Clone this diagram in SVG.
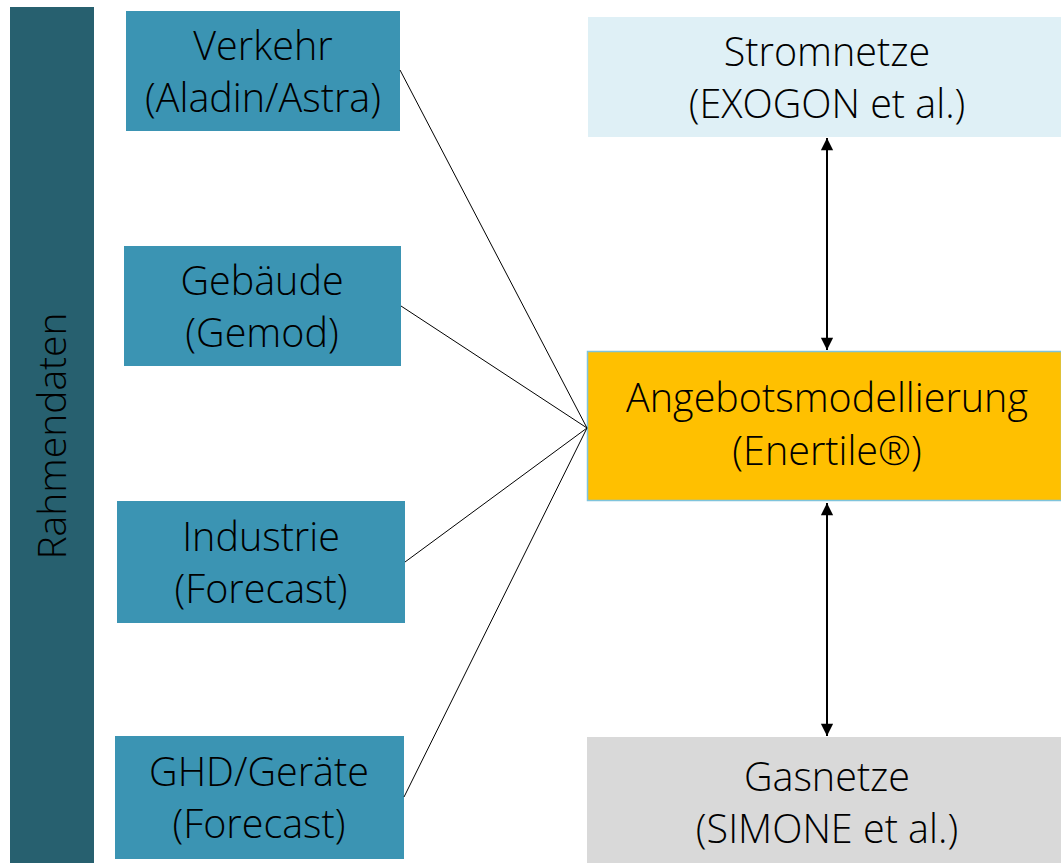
<svg xmlns="http://www.w3.org/2000/svg" width="1061" height="863" viewBox="0 0 1061 863">
<style>
text{font-family:"Open Sans","Noto Sans","DejaVu Sans",sans-serif;font-size:39.5px;font-weight:300;fill:#000;text-anchor:middle}
.blue{fill:#3b94b3}
.line{stroke:#000;stroke-width:1;fill:none}
.arr{stroke:#000;stroke-width:2;fill:none;marker-start:url(#ah);marker-end:url(#ah)}
</style>
<defs>
<marker id="ah" viewBox="0 0 14 16" refX="14" refY="7" markerWidth="14" markerHeight="14" markerUnits="userSpaceOnUse" orient="auto-start-reverse">
<path d="M0,0 L14,7 L0,14 Z" fill="#000"/>
</marker>
</defs>
<rect width="1061" height="863" fill="#fff"/>
<g id="rahmendaten">
<rect x="10" y="7" width="84" height="856" fill="#27606f"/>
<text transform="translate(66,436) rotate(-90)" style="font-size:39px">Rahmendaten</text>
</g>
<g id="verkehr">
<rect class="blue" x="126" y="11" width="274" height="120"/>
<text x="263" y="60">Verkehr</text>
<text x="263" y="112">(Aladin/Astra)</text>
</g>
<g id="gebaeude">
<rect class="blue" x="124" y="246" width="277" height="120"/>
<text x="262" y="295">Gebäude</text>
<text x="262" y="347">(Gemod)</text>
</g>
<g id="industrie">
<rect class="blue" x="117" y="501" width="288" height="122"/>
<text x="261" y="551">Industrie</text>
<text x="261" y="603">(Forecast)</text>
</g>
<g id="ghd">
<rect class="blue" x="115" y="736" width="289" height="123"/>
<text x="259" y="786">GHD/Geräte</text>
<text x="259" y="838">(Forecast)</text>
</g>
<g id="stromnetze">
<rect x="588" y="17" width="473" height="120" fill="#dff0f6"/>
<text x="827" y="66">Stromnetze</text>
<text x="827" y="118">(EXOGON et al.)</text>
</g>
<g id="angebot">
<rect x="587.5" y="351.5" width="474" height="149" fill="#ffc000" stroke="#7fc4dc" stroke-width="1.5"/>
<text x="827" y="412">Angebotsmodellierung</text>
<text x="827" y="465">(Enertile®)</text>
</g>
<g id="gasnetze">
<rect x="587" y="737" width="474" height="126" fill="#d9d9d9"/>
<text x="827" y="791">Gasnetze</text>
<text x="827" y="843">(SIMONE et al.)</text>
</g>
<g id="connectors">
<line class="line" x1="400" y1="70" x2="587" y2="428"/>
<line class="line" x1="401" y1="306" x2="587" y2="428"/>
<line class="line" x1="405" y1="562" x2="587" y2="428"/>
<line class="line" x1="404" y1="797" x2="587" y2="428"/>
<line class="arr" x1="827" y1="138" x2="827" y2="350"/>
<line class="arr" x1="827" y1="503" x2="827" y2="736"/>
</g>
</svg>
